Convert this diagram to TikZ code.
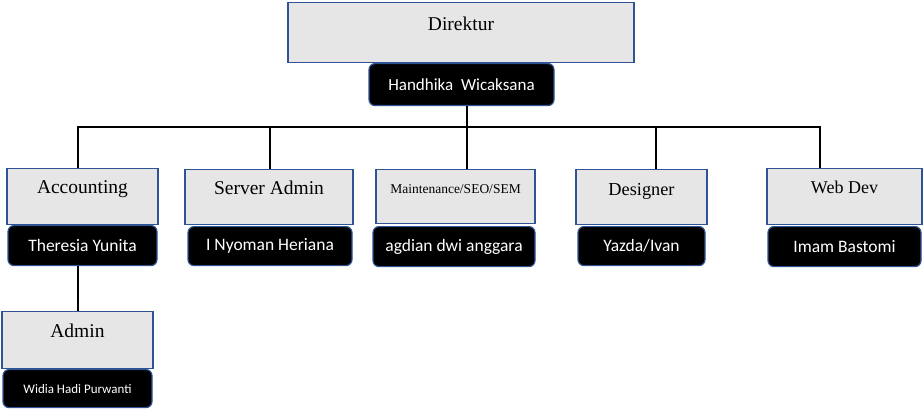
\documentclass[tikz,border=0pt]{standalone}
\usepackage{fontspec}
\setmainfont{Liberation Serif}
\newfontfamily\namefont{Carlito}
\definecolor{boxblue}{HTML}{2F5496}
\definecolor{boxgray}{HTML}{E6E6E6}

\begin{document}
\begin{tikzpicture}[x=1pt,y=-1pt,
    unit/.style={draw=boxblue,line width=1.2pt,fill=boxgray,inner sep=0pt,anchor=north,
      text height=25pt,text depth=31pt,font=\fontsize{19.5}{22}\selectfont},
    person/.style={draw=boxblue,line width=1.2pt,fill=black,rounded corners=6pt,inner sep=0pt,
      anchor=north,minimum height=40pt,text=white,font=\namefont\fontsize{17.5}{20}\selectfont},
    link/.style={line width=2pt}]
    \useasboundingbox (0,0) rectangle (923,409);

    \node[unit,minimum width=346pt,text height=28pt,text depth=32pt] (dir) at (461,2) {Direktur};
    \node[person,minimum width=185pt,minimum height=42pt,font=\namefont\fontsize{17}{20}\selectfont] (head) at (461.5,63) {Handhika~ Wicaksana};

    \node[unit,minimum width=151pt] (acc) at (82.5,168) {Accounting};
    \node[person,minimum width=149pt] (accp) at (82.5,225) {Theresia Yunita};
    \node[unit,minimum width=168pt,text depth=30pt] (srv) at (269,169) {Server Admin};
    \node[person,minimum width=164pt,minimum height=39pt] (srvp) at (270,226) {I Nyoman Heriana};
    \node[unit,minimum width=159pt,text height=24pt,text depth=30pt,font=\fontsize{13.5}{16}\selectfont] (mnt) at (455.5,169) {Maintenance/SEO/SEM};
    \node[person,minimum width=162pt] (mntp) at (454,226) {agdian dwi anggara};
    \node[unit,minimum width=131pt,text height=26pt,text depth=29pt,font=\fontsize{18.3}{21}\selectfont] (des) at (641.5,169) {Designer};
    \node[person,minimum width=127pt,minimum height=39pt] (desp) at (641.5,226) {Yazda/Ivan};
    \node[unit,minimum width=155pt,font=\fontsize{18}{21}\selectfont] (web) at (844.5,168) {Web Dev};
    \node[person,minimum width=153pt] (webp) at (844.5,226) {Imam Bastomi};

    \node[unit,minimum width=151pt,text height=26pt] (adm) at (77.5,311) {Admin};
    \node[person,minimum width=149pt,minimum height=38pt,font=\namefont\fontsize{13}{16}\selectfont] (admp) at (77.5,369) {Widia Hadi Purwanti};

    \coordinate (bus) at (467,127);
    \coordinate (busL) at (78,127);
    \coordinate (busR) at (820,127);
    \coordinate (dropS) at (270,127);
    \coordinate (dropD) at (656,127);

    \draw[link] (busL |- acc.north) -- (busL) -- (busR) -- (busR |- web.north);
    \draw[link] (head.south -| bus) -- (mnt.north -| bus);
    \draw[link] (dropS) -- (dropS |- srv.north);
    \draw[link] (dropD) -- (dropD |- des.north);
    \draw[link] (accp.south -| busL) -- (adm.north -| busL);
\end{tikzpicture}
\end{document}
